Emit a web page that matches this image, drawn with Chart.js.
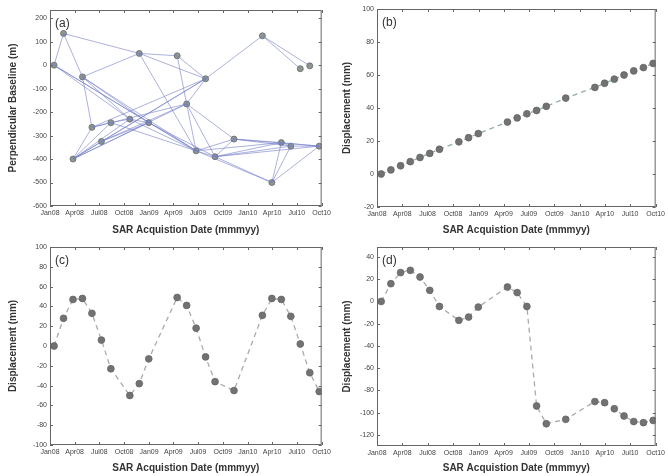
<!DOCTYPE html>
<html>
<head>
<meta charset="utf-8">
<script src="https://cdn.jsdelivr.net/npm/chart.js@4.4.0/dist/chart.umd.min.js"></script>
<style>
  html, body { margin: 0; padding: 0; background: #fff; }
  #fig { position: relative; width: 668px; height: 476px; overflow: hidden; }
  .panel { position: absolute; width: 334px; height: 238px; }
</style>
</head>
<body>
<div id="fig">
  <div class="panel" style="left:0;top:0"><canvas id="chartA" width="334" height="238"></canvas></div>
  <div class="panel" style="left:334px;top:0"><canvas id="chartB" width="334" height="238"></canvas></div>
  <div class="panel" style="left:0;top:238px"><canvas id="chartC" width="334" height="238"></canvas></div>
  <div class="panel" style="left:334px;top:238px"><canvas id="chartD" width="334" height="238"></canvas></div>
</div>
<script>
/* ================= DATA ================= */

// SAR acquisition dates (35 day repeat, some gaps)
const acqDates = [
    '2008-01-16', '2008-02-20', '2008-03-26', '2008-04-30', '2008-06-04',
    '2008-07-09', '2008-08-13', '2008-10-22', '2008-11-26', '2008-12-31',
    '2009-04-15', '2009-05-20', '2009-06-24', '2009-07-29', '2009-09-02',
    '2009-11-11', '2010-02-24', '2010-03-31', '2010-05-05', '2010-06-09',
    '2010-07-14', '2010-08-18', '2010-09-22'
];

// (a) perpendicular baseline per acquisition (m)
const baselines = [0, 135, -400, -50, -265, -325, -245, -230, 50, -245, 40, -165,
    -365, -58, -390, -315, 125, -500, -330, -345, -15, -3, -345];

// (a) interferometric pairs, as indices into acqDates
const baselinePairs = [
    [0, 1], [1, 3], [1, 8], [8, 10], [10, 13], [8, 13], [3, 8], [3, 4], [10, 11],
    [8, 12], [13, 16], [16, 20], [16, 21],
    [0, 7], [0, 9], [0, 12], [3, 9], [3, 12], [3, 7],
    [2, 4], [2, 5], [2, 7], [2, 9], [2, 11], [2, 13], [2, 6],
    [4, 6], [4, 13], [4, 11], [5, 9], [5, 11], [5, 13],
    [6, 7], [7, 9], [7, 12], [9, 12], [9, 14], [6, 12],
    [11, 12], [11, 14], [11, 13], [11, 15],
    [12, 15], [12, 14], [12, 17], [12, 18],
    [14, 15], [14, 17], [14, 18], [14, 19], [14, 22],
    [15, 18], [15, 19], [15, 22],
    [17, 18], [17, 19], [17, 22],
    [18, 19], [18, 22], [19, 22]
];

// (b) linear displacement (mm)
const linearDisp = [0, 2.5, 5, 7.5, 10, 12.5, 15, 19.5, 22, 24.5, 31.5, 34,
    36.5, 38.5, 41, 46, 52.5, 55, 57.5, 60, 62.5, 64.5, 67];

// (c) seasonal displacement (mm)
const seasonalDisp = [0, 28, 47, 48, 33, 6, -23, -50, -38, -13, 49, 41,
    18, -11, -36, -45, 31, 48, 47, 30, 2, -27, -46];

// (d) displacement with a step (mm)
const stepDisp = [0, 16, 26, 28, 22, 10, -4.5, -17, -14, -5, 13, 8,
    -4.5, -94, -110, -106, -90, -91, -96.5, -103, -108, -109, -107];

const xTickDates = ['2008-01-01', '2008-04-01', '2008-07-01', '2008-10-01', '2009-01-01', '2009-04-01',
    '2009-07-01', '2009-10-01', '2010-01-01', '2010-04-01', '2010-07-01', '2010-10-01'];
const xTickLabels = ['Jan08', 'Apr08', 'Jul08', 'Oct08', 'Jan09', 'Apr09',
    'Jul09', 'Oct09', 'Jan10', 'Apr10', 'Jul10', 'Oct10'];

const yTicksA = [-600, -500, -400, -300, -200, -100, 0, 100, 200];
const yTicksB = [-20, 0, 20, 40, 60, 80, 100];
const yTicksC = [-100, -80, -60, -40, -20, 0, 20, 40, 60, 80, 100];
const yTicksD = [-120, -100, -80, -60, -40, -20, 0, 20, 40];

/* ================= HELPERS ================= */

const T0 = Date.UTC(2008, 0, 1);
function dayOf(s) {
    return (Date.parse(s) - T0) / 86400000;
}

const acqDays = acqDates.map(dayOf);
const xTickDays = xTickDates.map(dayOf);

const FONT = '"Liberation Sans", Arial, sans-serif';

// matlab-ish box with inward ticks and a panel tag
const boxPlugin = {
    id: 'matBox',
    afterDraw(chart, args, opts) {
        const { ctx, chartArea: a, scales: { x, y } } = chart;
        ctx.save();
        ctx.strokeStyle = '#666';
        ctx.lineWidth = 1;
        ctx.strokeRect(a.left + 0.5, a.top + 0.5, a.width - 1, a.height - 1);
        ctx.beginPath();
        x.ticks.forEach(t => {
            const px = Math.round(x.getPixelForValue(t.value)) + 0.5;
            ctx.moveTo(px, a.bottom); ctx.lineTo(px, a.bottom - 3);
            ctx.moveTo(px, a.top); ctx.lineTo(px, a.top + 3);
        });
        y.ticks.forEach(t => {
            const py = Math.round(y.getPixelForValue(t.value)) + 0.5;
            ctx.moveTo(a.left, py); ctx.lineTo(a.left + 3, py);
            ctx.moveTo(a.right, py); ctx.lineTo(a.right - 3, py);
        });
        ctx.stroke();
        if (opts.tag) {
            ctx.fillStyle = '#333';
            ctx.font = '12px ' + FONT;
            ctx.textBaseline = 'top';
            ctx.fillText(opts.tag, a.left + 5, a.top + 8);
        }
        ctx.restore();
    }
};

function makePanel(id, opt) {
    return new Chart(document.getElementById(id), {
        type: 'scatter',
        data: { datasets: opt.datasets },
        plugins: [boxPlugin],
        options: {
            responsive: false,
            animation: false,
            events: [],
            layout: { padding: { top: opt.top, right: opt.right, left: 0, bottom: 0 } },
            plugins: {
                legend: { display: false },
                tooltip: { enabled: false },
                matBox: { tag: opt.tag }
            },
            scales: {
                x: {
                    type: 'linear',
                    min: 0,
                    max: xTickDays[xTickDays.length - 1],
                    afterBuildTicks: s => { s.ticks = xTickDays.map(v => ({ value: v })); },
                    afterFit: s => { s.height = opt.xHeight; },
                    grid: { display: false, drawTicks: false },
                    border: { display: false },
                    ticks: {
                        autoSkip: false, maxRotation: 0, minRotation: 0, padding: 3,
                        color: '#444', font: { family: FONT, size: 7 },
                        callback: (v, i) => xTickLabels[i]
                    },
                    title: {
                        display: true, text: 'SAR Acquistion Date (mmmyy)', color: '#333',
                        font: { family: FONT, size: 10, weight: 'bold' },
                        padding: { top: 0, bottom: 2 }
                    }
                },
                y: {
                    type: 'linear',
                    min: opt.yMin,
                    max: opt.yMax,
                    afterBuildTicks: s => { s.ticks = opt.yTicks.map(v => ({ value: v })); },
                    afterFit: s => { s.width = opt.yWidth; },
                    grid: { display: false, drawTicks: false },
                    border: { display: false },
                    ticks: {
                        padding: 3, color: '#444', font: { family: FONT, size: 7 }
                    },
                    title: {
                        display: true, text: opt.yTitle, color: '#333',
                        font: { family: FONT, size: 10, weight: 'bold' },
                        padding: { top: 7, bottom: 0 }
                    }
                }
            }
        }
    });
}

function seriesPoints(values) {
    return acqDays.map((d, i) => ({ x: d, y: values[i] }));
}

function dispDatasets(values, lineColor) {
    return [{
        data: seriesPoints(values),
        showLine: true,
        borderColor: lineColor,
        borderWidth: 1.3,
        borderDash: [5, 4],
        pointRadius: 3.4,
        pointBackgroundColor: '#727272',
        pointBorderColor: '#666',
        pointBorderWidth: 0.8
    }];
}

/* ================= (a) BASELINE NETWORK ================= */

let pairSegments = [];
baselinePairs.forEach(([i, j]) => {
    pairSegments.push({ x: acqDays[i], y: baselines[i] });
    pairSegments.push({ x: acqDays[j], y: baselines[j] });
    pairSegments.push({ x: acqDays[j], y: null });
});

makePanel('chartA', {
    tag: '(a)', top: 10, right: 4, yWidth: 50, xHeight: 32,
    yMin: -600, yMax: 235, yTicks: yTicksA, yTitle: 'Perpendicular Baseline (m)',
    datasets: [
        {
            data: pairSegments,
            showLine: true,
            spanGaps: false,
            borderColor: 'rgba(115,125,200,0.6)',
            borderWidth: 1,
            pointRadius: 0
        },
        {
            data: seriesPoints(baselines),
            pointRadius: 3,
            pointBackgroundColor: '#8d9a8d',
            pointBorderColor: '#666',
            pointBorderWidth: 0.8
        }
    ]
});

/* ================= (b)-(d) DISPLACEMENT ================= */

makePanel('chartB', {
    tag: '(b)', top: 9, right: 9, yWidth: 43, xHeight: 31,
    yMin: -20, yMax: 100, yTicks: yTicksB, yTitle: 'Displacement (mm)',
    datasets: dispDatasets(linearDisp, 'rgba(130,165,145,0.9)')
});

makePanel('chartC', {
    tag: '(c)', top: 9, right: 4, yWidth: 50, xHeight: 31,
    yMin: -100, yMax: 100, yTicks: yTicksC, yTitle: 'Displacement (mm)',
    datasets: dispDatasets(seasonalDisp, '#aaaaaa')
});

makePanel('chartD', {
    tag: '(d)', top: 9, right: 9, yWidth: 43, xHeight: 30,
    yMin: -130, yMax: 49, yTicks: yTicksD, yTitle: 'Displacement (mm)',
    datasets: dispDatasets(stepDisp, '#aaaaaa')
});
</script>
</body>
</html>
